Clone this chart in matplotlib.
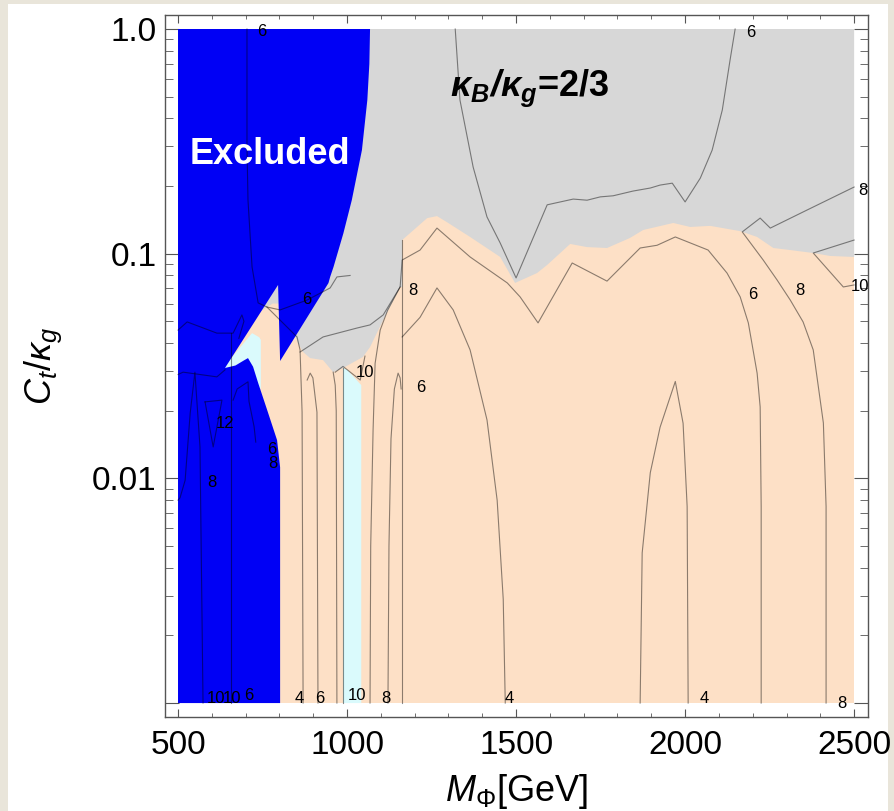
import matplotlib
matplotlib.use('Agg')
import matplotlib.pyplot as plt
from matplotlib.patches import Rectangle
from matplotlib.ticker import FixedLocator, FixedFormatter, NullFormatter

plt.rcParams['font.family'] = ['Liberation Sans', 'DejaVu Sans']
plt.rcParams['mathtext.fontset'] = 'custom'
plt.rcParams['mathtext.rm'] = 'Liberation Sans'
plt.rcParams['mathtext.it'] = 'Liberation Sans:italic'
plt.rcParams['mathtext.bf'] = 'Liberation Sans:bold:italic'

# ---- region boundaries (M in GeV, C = Ct/kappa_g) ----
excl_M = [500, 1068, 1066, 1060, 1044, 1014, 989, 960, 950, 945,
          802, 796, 639, 670, 695, 707, 722, 737, 763, 793, 802, 802, 500]
excl_C = [1.0, 1.0, 0.7, 0.483, 0.289, 0.173, 0.123, 0.0873, 0.0788, 0.074,
          0.0333, 0.0726, 0.031, 0.0318, 0.0335, 0.0343, 0.0314, 0.0266, 0.0203, 0.0148,
          0.0112, 0.001, 0.001]

gray_M = [500, 2500, 2500, 2429, 2379, 2311, 2261, 2213, 2163, 2074, 2015, 1965, 1876,
          1837, 1769, 1710, 1660, 1592, 1562, 1497, 1453, 1364, 1296, 1266, 1237, 1163,
          1163, 1157, 1107, 1068, 1047, 988, 959, 929, 891, 870, 855, 840, 802, 780, 700,
          639, 500]
gray_C = [1.0, 1.0, 0.0967, 0.0977, 0.1007, 0.1038, 0.106, 0.1187, 0.126, 0.133, 0.1315,
          0.137, 0.1275, 0.1175, 0.106, 0.107, 0.1105, 0.0891, 0.082, 0.0741, 0.0967,
          0.1187, 0.138, 0.147, 0.144, 0.115, 0.0711, 0.0711, 0.0507, 0.0384, 0.0347,
          0.031, 0.0297, 0.0336, 0.0343, 0.0365, 0.040, 0.046, 0.06, 0.06, 0.05, 0.031, 0.031]

notch_peach_M = [745, 745, 752, 765, 780, 796, 803, 803]
notch_peach_C = [0.02, 0.05, 0.0562, 0.058, 0.058, 0.0562, 0.05, 0.02]

notch_cyan_M = [719, 740, 747, 747, 640, 633]
notch_cyan_C = [0.0443, 0.0425, 0.041, 0.025, 0.029, 0.031]

bar_cyan_M = [988, 988, 1000, 1042, 1042]
bar_cyan_C = [0.001, 0.031, 0.0305, 0.026, 0.001]

# ---- contour lines ----
contours = [
    # gray region / upper left
    ([704, 704, 707, 719, 737, 763, 802, 882, 950, 970, 1009],
     [1.0, 0.3, 0.173, 0.0873, 0.0604, 0.0579, 0.0562, 0.0622, 0.0704, 0.0788, 0.080]),
    ([1320, 1334, 1373, 1414, 1453, 1500, 1592, 1669, 1710, 1749, 1787, 1846, 1897, 1926,
      1962, 2000, 2045, 2080, 2110, 2133, 2148],
     [1.0, 0.483, 0.243, 0.1457, 0.1116, 0.078, 0.165, 0.175, 0.173, 0.179, 0.181, 0.190,
      0.196, 0.202, 0.206, 0.170, 0.217, 0.289, 0.436, 0.728, 1.0]),
    ([861, 929, 1030, 1068, 1107, 1157, 1163, 1216, 1266, 1364, 1474, 1512, 1565, 1666,
      1769, 1867, 1917, 1971, 2068, 2124, 2163, 2187, 2201, 2213, 2222, 2225, 2225],
     [0.0365, 0.0426, 0.0467, 0.0482, 0.0534, 0.0711, 0.0937, 0.1038, 0.130, 0.0967,
      0.0741, 0.0642, 0.0492, 0.0909, 0.0755, 0.106, 0.109, 0.1187, 0.1038, 0.082,
      0.0642, 0.0492, 0.0373, 0.0294, 0.0208, 0.0075, 0.001]),
    ([2500, 2361, 2252, 2222, 2169, 2231, 2272, 2311, 2349, 2379, 2409, 2417, 2417],
     [0.198, 0.1565, 0.130, 0.144, 0.125, 0.0937, 0.0764, 0.0622, 0.0497, 0.0373, 0.01764,
      0.0075, 0.001]),
    ([2500, 2379, 2468, 2500], [0.115, 0.1007, 0.0711, 0.0726]),
    # blue region
    ([500, 527, 615, 663, 689, 695, 680], [0.0457, 0.0497, 0.0443, 0.0443, 0.0534, 0.05, 0.042]),
    ([657, 657], [0.0443, 0.001]),
    ([500, 515, 615, 639], [0.029, 0.0297, 0.0283, 0.0304]),
    ([500, 506, 521, 536, 550, 565, 574], [0.008, 0.0082, 0.0098, 0.0195, 0.0297, 0.0138, 0.001]),
    ([580, 630, 604, 580], [0.0219, 0.0223, 0.0138, 0.0219]),
    ([663, 675, 707, 710, 725, 730], [0.0223, 0.025, 0.0269, 0.022, 0.017, 0.0145]),
    # peach region
    ([763, 852, 861, 867, 870], [0.0579, 0.0426, 0.0373, 0.0197, 0.001]),
    ([882, 891, 899, 911, 914], [0.0274, 0.0294, 0.028, 0.0197, 0.001]),
    ([959, 965, 968, 970], [0.0297, 0.026, 0.02, 0.001]),
    ([988, 988], [0.031, 0.001]),
    ([965, 988, 1039, 1053], [0.0297, 0.0315, 0.0274, 0.035]),
    ([1157, 1120, 1098, 1083, 1077, 1070, 1068], [0.0711, 0.056, 0.0457, 0.0325, 0.0164, 0.005, 0.001]),
    ([1121, 1124, 1130, 1140, 1151, 1157, 1160], [0.001, 0.005, 0.015, 0.025, 0.0294, 0.028, 0.025]),
    ([1163, 1163], [0.115, 0.001]),
    ([1163, 1216, 1266, 1314, 1364, 1414, 1444, 1462, 1468],
     [0.0426, 0.0521, 0.0704, 0.0562, 0.0373, 0.0182, 0.008, 0.0029, 0.001]),
    ([1867, 1873, 1897, 1926, 1971, 1994, 2006, 2009],
     [0.001, 0.00466, 0.0106, 0.0169, 0.027, 0.0176, 0.0075, 0.001]),
]

label_M = [749, 1195, 2193, 2201, 2340, 2527, 2518, 601, 639, 778, 781, 612, 660, 708,
           858, 920, 1053, 1030, 1115, 1479, 2056, 2465, 1217, 880]
label_C = [0.97, 0.0689, 0.96, 0.0655, 0.0689, 0.192, 0.0711, 0.0096, 0.0176,
           0.0135, 0.0117, 0.00105, 0.00105, 0.00108, 0.00105, 0.00105, 0.0297, 0.00108,
           0.00105, 0.00105, 0.00105, 0.001, 0.0255, 0.0625]
label_txt = ['6', '8', '6', '6', '8', '8', '10', '8', '12', '6', '8', '10', '10', '6',
             '4', '6', '10', '10', '8', '4', '4', '8', '6', '6']

x_major = [500, 1000, 1500, 2000, 2500]
x_minor = list(range(500, 2501, 100))
y_major = [0.001, 0.01, 0.1, 1.0]
y_major_lbl = ['', '0.01', '0.1', '1.0']
y_minor = [k * 10.0 ** e for e in (-3, -2, -1) for k in range(2, 10)]

fig = plt.figure(figsize=(8.94, 8.11), dpi=100)
fig.patch.set_facecolor('#e9e5da')
fig.patches.append(Rectangle((8 / 894, 0), 880 / 894, 1 - 4 / 811, transform=fig.transFigure,
                             facecolor='white', edgecolor='none', zorder=-10))
ax = fig.add_axes([165 / 894, 1 - 717 / 811, 703 / 894, 702 / 811])
ax.set_yscale('log')
ax.set_xlim(461.5, 2541)
ax.set_ylim(10 ** -3.062, 10 ** 0.0623)
ax.set_facecolor('white')

ax.fill([500, 2500, 2500, 500], [0.001, 0.001, 1.0, 1.0], color='#fde0c6', lw=0, zorder=1)
ax.fill(gray_M, gray_C, color='#d7d7d7', lw=0, zorder=2)
ax.fill(notch_cyan_M, notch_cyan_C, color='#dafafc', lw=0, zorder=3)
ax.fill(notch_peach_M, notch_peach_C, color='#fde0c6', lw=0, zorder=3)
ax.fill(bar_cyan_M, bar_cyan_C, color='#dafafc', lw=0, zorder=3)
ax.fill(excl_M, excl_C, color='#0000f5', lw=0, zorder=4)

for cm, cc in contours:
    ax.plot(cm, cc, color='black', lw=0.8, zorder=5, alpha=0.45)

for m, c, t in zip(label_M, label_C, label_txt):
    ax.text(m, c, t, fontsize=12, ha='center', va='center', zorder=6, clip_on=False)

ax.text(772, 0.275, 'Excluded', color='white', fontsize=26, fontweight='bold',
        ha='center', va='center', zorder=7)
ax.text(1541, 0.546, r'$\mathbf{\kappa_B/\kappa_g}$=2/3', fontsize=26, fontweight='bold',
        ha='center', va='center', zorder=7)

ax.xaxis.set_major_locator(FixedLocator(x_major))
ax.xaxis.set_minor_locator(FixedLocator(x_minor))
ax.yaxis.set_major_locator(FixedLocator(y_major))
ax.yaxis.set_major_formatter(FixedFormatter(y_major_lbl))
ax.yaxis.set_minor_locator(FixedLocator(y_minor))
ax.yaxis.set_minor_formatter(NullFormatter())
ax.tick_params(which='both', direction='in', top=True, right=True, color='#555555',
               labelsize=24)
ax.tick_params(axis='x', which='major', length=6, pad=9)
ax.tick_params(axis='x', which='minor', length=3)
ax.tick_params(axis='y', which='major', length=10, pad=6)
ax.tick_params(axis='y', which='minor', length=6)
for s in ax.spines.values():
    s.set_color('#555555')
    s.set_linewidth(1.0)

ax.set_xlabel(r'$M_\Phi$[GeV]', fontsize=26, labelpad=8)
ax.set_ylabel(r'$C_t/\kappa_g$', fontsize=26, labelpad=20)

fig.savefig('out.png', dpi=100, facecolor=fig.get_facecolor())
